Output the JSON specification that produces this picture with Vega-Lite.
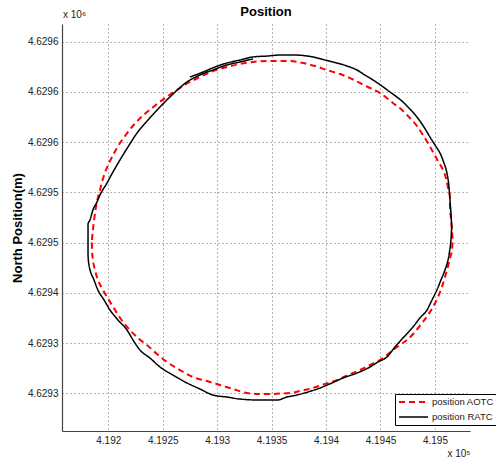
{
  "$schema": "https://vega.github.io/schema/vega-lite/v6.json",
  "width": 408,
  "height": 407,
  "autosize": {"type": "none"},
  "padding": {"left": 62, "top": 24, "right": 26, "bottom": 37},
  "background": "white",
  "config": {
    "view": {"stroke": null},
    "font": "Liberation Sans",
    "axis": {
      "grid": true,
      "gridDash": [1, 3],
      "gridColor": "#6f6f6f",
      "gridWidth": 1,
      "gridOpacity": 1,
      "domainColor": "#444444",
      "domainWidth": 1.2,
      "ticks": false,
      "labelFontSize": 10,
      "labelColor": "#222222",
      "labelFont": "Liberation Sans",
      "titleFont": "Liberation Sans",
      "titleColor": "#000000"
    },
    "legend": {
      "orient": "none",
      "legendX": 333,
      "legendY": 370,
      "strokeColor": "#000000",
      "fillColor": "#ffffff",
      "padding": 3,
      "cornerRadius": 0,
      "symbolType": "stroke",
      "symbolSize": 841,
      "symbolStrokeWidth": 2,
      "clipHeight": 10,
      "labelFontSize": 9.5,
      "labelFont": "Liberation Sans",
      "labelColor": "#222222",
      "labelOffset": 3,
      "rowPadding": 5
    }
  },
  "title": {
    "text": "Position",
    "fontSize": 13,
    "fontWeight": "bold",
    "font": "Liberation Sans",
    "color": "#000000",
    "anchor": "middle",
    "offset": -9
  },
  "data": {
    "values": [
      {"series": "position AOTC", "i": 1, "x": 419185.0, "y": 4629452.6},
      {"series": "position AOTC", "i": 2, "x": 419185.9, "y": 4629462.5},
      {"series": "position AOTC", "i": 3, "x": 419188.7, "y": 4629485.4},
      {"series": "position AOTC", "i": 4, "x": 419192.4, "y": 4629502.4},
      {"series": "position AOTC", "i": 5, "x": 419195.6, "y": 4629515.3},
      {"series": "position AOTC", "i": 6, "x": 419201.6, "y": 4629531.2},
      {"series": "position AOTC", "i": 7, "x": 419208.5, "y": 4629545.2},
      {"series": "position AOTC", "i": 8, "x": 419216.0, "y": 4629557.1},
      {"series": "position AOTC", "i": 9, "x": 419223.7, "y": 4629567.6},
      {"series": "position AOTC", "i": 10, "x": 419232.4, "y": 4629577.0},
      {"series": "position AOTC", "i": 11, "x": 419242.0, "y": 4629585.5},
      {"series": "position AOTC", "i": 12, "x": 419252.1, "y": 4629593.9},
      {"series": "position AOTC", "i": 13, "x": 419263.1, "y": 4629601.9},
      {"series": "position AOTC", "i": 14, "x": 419273.2, "y": 4629608.9},
      {"series": "position AOTC", "i": 15, "x": 419284.2, "y": 4629614.8},
      {"series": "position AOTC", "i": 16, "x": 419296.1, "y": 4629620.8},
      {"series": "position AOTC", "i": 17, "x": 419309.0, "y": 4629624.8},
      {"series": "position AOTC", "i": 18, "x": 419320.9, "y": 4629627.8},
      {"series": "position AOTC", "i": 19, "x": 419332.9, "y": 4629629.8},
      {"series": "position AOTC", "i": 20, "x": 419345.7, "y": 4629630.8},
      {"series": "position AOTC", "i": 21, "x": 419357.7, "y": 4629630.8},
      {"series": "position AOTC", "i": 22, "x": 419366.9, "y": 4629630.8},
      {"series": "position AOTC", "i": 23, "x": 419378.8, "y": 4629628.8},
      {"series": "position AOTC", "i": 24, "x": 419389.8, "y": 4629625.8},
      {"series": "position AOTC", "i": 25, "x": 419400.8, "y": 4629621.8},
      {"series": "position AOTC", "i": 26, "x": 419412.8, "y": 4629617.8},
      {"series": "position AOTC", "i": 27, "x": 419422.0, "y": 4629613.8},
      {"series": "position AOTC", "i": 28, "x": 419431.1, "y": 4629608.9},
      {"series": "position AOTC", "i": 29, "x": 419440.3, "y": 4629603.9},
      {"series": "position AOTC", "i": 30, "x": 419449.5, "y": 4629598.9},
      {"series": "position AOTC", "i": 31, "x": 419461.4, "y": 4629589.0},
      {"series": "position AOTC", "i": 32, "x": 419469.7, "y": 4629582.0},
      {"series": "position AOTC", "i": 33, "x": 419477.0, "y": 4629574.0},
      {"series": "position AOTC", "i": 34, "x": 419483.5, "y": 4629566.1},
      {"series": "position AOTC", "i": 35, "x": 419489.0, "y": 4629557.1},
      {"series": "position AOTC", "i": 36, "x": 419493.6, "y": 4629549.1},
      {"series": "position AOTC", "i": 37, "x": 419498.2, "y": 4629540.2},
      {"series": "position AOTC", "i": 38, "x": 419502.8, "y": 4629531.2},
      {"series": "position AOTC", "i": 39, "x": 419507.4, "y": 4629522.3},
      {"series": "position AOTC", "i": 40, "x": 419510.1, "y": 4629514.3},
      {"series": "position AOTC", "i": 41, "x": 419511.9, "y": 4629505.3},
      {"series": "position AOTC", "i": 42, "x": 419513.8, "y": 4629495.4},
      {"series": "position AOTC", "i": 43, "x": 419513.8, "y": 4629485.4},
      {"series": "position AOTC", "i": 44, "x": 419514.7, "y": 4629474.5},
      {"series": "position AOTC", "i": 45, "x": 419515.6, "y": 4629462.5},
      {"series": "position AOTC", "i": 46, "x": 419516.5, "y": 4629452.6},
      {"series": "position AOTC", "i": 47, "x": 419515.6, "y": 4629442.6},
      {"series": "position AOTC", "i": 48, "x": 419513.8, "y": 4629434.7},
      {"series": "position AOTC", "i": 49, "x": 419511.9, "y": 4629425.7},
      {"series": "position AOTC", "i": 50, "x": 419509.2, "y": 4629415.8},
      {"series": "position AOTC", "i": 51, "x": 419506.4, "y": 4629405.8},
      {"series": "position AOTC", "i": 52, "x": 419502.8, "y": 4629395.9},
      {"series": "position AOTC", "i": 53, "x": 419498.2, "y": 4629385.9},
      {"series": "position AOTC", "i": 54, "x": 419493.6, "y": 4629377.9},
      {"series": "position AOTC", "i": 55, "x": 419488.1, "y": 4629370.0},
      {"series": "position AOTC", "i": 56, "x": 419481.6, "y": 4629361.0},
      {"series": "position AOTC", "i": 57, "x": 419474.3, "y": 4629353.1},
      {"series": "position AOTC", "i": 58, "x": 419467.9, "y": 4629348.1},
      {"series": "position AOTC", "i": 59, "x": 419461.4, "y": 4629343.1},
      {"series": "position AOTC", "i": 60, "x": 419455.9, "y": 4629338.1},
      {"series": "position AOTC", "i": 61, "x": 419449.5, "y": 4629333.1},
      {"series": "position AOTC", "i": 62, "x": 419440.3, "y": 4629328.2},
      {"series": "position AOTC", "i": 63, "x": 419431.1, "y": 4629323.2},
      {"series": "position AOTC", "i": 64, "x": 419420.1, "y": 4629318.2},
      {"series": "position AOTC", "i": 65, "x": 419410.0, "y": 4629313.2},
      {"series": "position AOTC", "i": 66, "x": 419399.0, "y": 4629309.3},
      {"series": "position AOTC", "i": 67, "x": 419388.0, "y": 4629305.3},
      {"series": "position AOTC", "i": 68, "x": 419376.0, "y": 4629302.3},
      {"series": "position AOTC", "i": 69, "x": 419366.9, "y": 4629300.3},
      {"series": "position AOTC", "i": 70, "x": 419357.7, "y": 4629299.8},
      {"series": "position AOTC", "i": 71, "x": 419348.5, "y": 4629299.3},
      {"series": "position AOTC", "i": 72, "x": 419339.3, "y": 4629299.3},
      {"series": "position AOTC", "i": 73, "x": 419327.4, "y": 4629300.3},
      {"series": "position AOTC", "i": 74, "x": 419314.5, "y": 4629304.3},
      {"series": "position AOTC", "i": 75, "x": 419302.6, "y": 4629308.3},
      {"series": "position AOTC", "i": 76, "x": 419290.6, "y": 4629312.2},
      {"series": "position AOTC", "i": 77, "x": 419277.8, "y": 4629316.2},
      {"series": "position AOTC", "i": 78, "x": 419265.8, "y": 4629323.2},
      {"series": "position AOTC", "i": 79, "x": 419253.9, "y": 4629331.2},
      {"series": "position AOTC", "i": 80, "x": 419244.7, "y": 4629339.1},
      {"series": "position AOTC", "i": 81, "x": 419235.5, "y": 4629348.1},
      {"series": "position AOTC", "i": 82, "x": 419227.3, "y": 4629355.0},
      {"series": "position AOTC", "i": 83, "x": 419219.9, "y": 4629363.0},
      {"series": "position AOTC", "i": 84, "x": 419213.5, "y": 4629371.0},
      {"series": "position AOTC", "i": 85, "x": 419208.0, "y": 4629379.9},
      {"series": "position AOTC", "i": 86, "x": 419203.4, "y": 4629387.9},
      {"series": "position AOTC", "i": 87, "x": 419198.8, "y": 4629395.9},
      {"series": "position AOTC", "i": 88, "x": 419194.2, "y": 4629404.8},
      {"series": "position AOTC", "i": 89, "x": 419190.5, "y": 4629412.8},
      {"series": "position AOTC", "i": 90, "x": 419187.8, "y": 4629422.7},
      {"series": "position AOTC", "i": 91, "x": 419185.9, "y": 4629432.7},
      {"series": "position AOTC", "i": 92, "x": 419185.0, "y": 4629442.6},
      {"series": "position AOTC", "i": 93, "x": 419185.0, "y": 4629452.6},
      {"series": "position RATC", "i": 1, "x": 419275.0, "y": 4629614.8},
      {"series": "position RATC", "i": 2, "x": 419287.0, "y": 4629619.8},
      {"series": "position RATC", "i": 3, "x": 419298.0, "y": 4629624.8},
      {"series": "position RATC", "i": 4, "x": 419309.0, "y": 4629628.8},
      {"series": "position RATC", "i": 5, "x": 419320.9, "y": 4629631.8},
      {"series": "position RATC", "i": 6, "x": 419332.9, "y": 4629634.8},
      {"series": "position RATC", "i": 7, "x": 419345.7, "y": 4629635.7},
      {"series": "position RATC", "i": 8, "x": 419357.7, "y": 4629636.7},
      {"series": "position RATC", "i": 9, "x": 419371.4, "y": 4629636.7},
      {"series": "position RATC", "i": 10, "x": 419388.0, "y": 4629634.8},
      {"series": "position RATC", "i": 11, "x": 419399.0, "y": 4629631.8},
      {"series": "position RATC", "i": 12, "x": 419410.0, "y": 4629628.8},
      {"series": "position RATC", "i": 13, "x": 419419.2, "y": 4629625.8},
      {"series": "position RATC", "i": 14, "x": 419428.4, "y": 4629621.8},
      {"series": "position RATC", "i": 15, "x": 419435.7, "y": 4629616.8},
      {"series": "position RATC", "i": 16, "x": 419443.1, "y": 4629611.9},
      {"series": "position RATC", "i": 17, "x": 419451.3, "y": 4629605.9},
      {"series": "position RATC", "i": 18, "x": 419458.7, "y": 4629599.9},
      {"series": "position RATC", "i": 19, "x": 419465.1, "y": 4629594.9},
      {"series": "position RATC", "i": 20, "x": 419470.6, "y": 4629590.0},
      {"series": "position RATC", "i": 21, "x": 419477.0, "y": 4629583.0},
      {"series": "position RATC", "i": 22, "x": 419483.5, "y": 4629575.0},
      {"series": "position RATC", "i": 23, "x": 419489.9, "y": 4629565.1},
      {"series": "position RATC", "i": 24, "x": 419495.4, "y": 4629555.1},
      {"series": "position RATC", "i": 25, "x": 419500.0, "y": 4629547.2},
      {"series": "position RATC", "i": 26, "x": 419504.6, "y": 4629539.2},
      {"series": "position RATC", "i": 27, "x": 419508.3, "y": 4629529.2},
      {"series": "position RATC", "i": 28, "x": 419511.0, "y": 4629519.3},
      {"series": "position RATC", "i": 29, "x": 419512.9, "y": 4629505.3},
      {"series": "position RATC", "i": 30, "x": 419513.8, "y": 4629492.4},
      {"series": "position RATC", "i": 31, "x": 419514.7, "y": 4629479.5},
      {"series": "position RATC", "i": 32, "x": 419515.6, "y": 4629465.5},
      {"series": "position RATC", "i": 33, "x": 419514.7, "y": 4629452.6},
      {"series": "position RATC", "i": 34, "x": 419512.9, "y": 4629437.7},
      {"series": "position RATC", "i": 35, "x": 419509.2, "y": 4629422.7},
      {"series": "position RATC", "i": 36, "x": 419505.5, "y": 4629412.8},
      {"series": "position RATC", "i": 37, "x": 419501.8, "y": 4629402.8},
      {"series": "position RATC", "i": 38, "x": 419497.3, "y": 4629392.9},
      {"series": "position RATC", "i": 39, "x": 419492.7, "y": 4629382.9},
      {"series": "position RATC", "i": 40, "x": 419486.2, "y": 4629375.0},
      {"series": "position RATC", "i": 41, "x": 419479.8, "y": 4629366.0},
      {"series": "position RATC", "i": 42, "x": 419470.6, "y": 4629355.0},
      {"series": "position RATC", "i": 43, "x": 419463.3, "y": 4629346.1},
      {"series": "position RATC", "i": 44, "x": 419455.9, "y": 4629336.1},
      {"series": "position RATC", "i": 45, "x": 419447.7, "y": 4629331.2},
      {"series": "position RATC", "i": 46, "x": 419440.3, "y": 4629326.2},
      {"series": "position RATC", "i": 47, "x": 419428.4, "y": 4629320.2},
      {"series": "position RATC", "i": 48, "x": 419415.5, "y": 4629315.2},
      {"series": "position RATC", "i": 49, "x": 419405.4, "y": 4629310.3},
      {"series": "position RATC", "i": 50, "x": 419394.4, "y": 4629305.3},
      {"series": "position RATC", "i": 51, "x": 419383.4, "y": 4629301.3},
      {"series": "position RATC", "i": 52, "x": 419373.3, "y": 4629298.3},
      {"series": "position RATC", "i": 53, "x": 419364.1, "y": 4629296.3},
      {"series": "position RATC", "i": 54, "x": 419354.9, "y": 4629293.3},
      {"series": "position RATC", "i": 55, "x": 419339.3, "y": 4629293.3},
      {"series": "position RATC", "i": 56, "x": 419320.9, "y": 4629294.3},
      {"series": "position RATC", "i": 57, "x": 419309.0, "y": 4629296.3},
      {"series": "position RATC", "i": 58, "x": 419296.1, "y": 4629298.3},
      {"series": "position RATC", "i": 59, "x": 419284.2, "y": 4629304.3},
      {"series": "position RATC", "i": 60, "x": 419272.3, "y": 4629310.3},
      {"series": "position RATC", "i": 61, "x": 419259.4, "y": 4629318.2},
      {"series": "position RATC", "i": 62, "x": 419247.5, "y": 4629326.2},
      {"series": "position RATC", "i": 63, "x": 419238.3, "y": 4629335.1},
      {"series": "position RATC", "i": 64, "x": 419229.1, "y": 4629343.1},
      {"series": "position RATC", "i": 65, "x": 419222.7, "y": 4629353.1},
      {"series": "position RATC", "i": 66, "x": 419217.2, "y": 4629363.0},
      {"series": "position RATC", "i": 67, "x": 419208.9, "y": 4629373.0},
      {"series": "position RATC", "i": 68, "x": 419201.6, "y": 4629382.9},
      {"series": "position RATC", "i": 69, "x": 419196.1, "y": 4629392.9},
      {"series": "position RATC", "i": 70, "x": 419190.5, "y": 4629402.8},
      {"series": "position RATC", "i": 71, "x": 419186.9, "y": 4629412.8},
      {"series": "position RATC", "i": 72, "x": 419182.3, "y": 4629427.7},
      {"series": "position RATC", "i": 73, "x": 419181.4, "y": 4629437.7},
      {"series": "position RATC", "i": 74, "x": 419181.4, "y": 4629452.6},
      {"series": "position RATC", "i": 75, "x": 419181.4, "y": 4629468.5},
      {"series": "position RATC", "i": 76, "x": 419183.2, "y": 4629472.5},
      {"series": "position RATC", "i": 77, "x": 419185.9, "y": 4629482.5},
      {"series": "position RATC", "i": 78, "x": 419189.6, "y": 4629490.4},
      {"series": "position RATC", "i": 79, "x": 419192.4, "y": 4629497.4},
      {"series": "position RATC", "i": 80, "x": 419198.8, "y": 4629509.3},
      {"series": "position RATC", "i": 81, "x": 419204.3, "y": 4629520.3},
      {"series": "position RATC", "i": 82, "x": 419210.7, "y": 4629532.2},
      {"series": "position RATC", "i": 83, "x": 419218.1, "y": 4629545.2},
      {"series": "position RATC", "i": 84, "x": 419226.4, "y": 4629559.1},
      {"series": "position RATC", "i": 85, "x": 419236.5, "y": 4629572.0},
      {"series": "position RATC", "i": 86, "x": 419247.5, "y": 4629585.0},
      {"series": "position RATC", "i": 87, "x": 419259.4, "y": 4629597.9},
      {"series": "position RATC", "i": 88, "x": 419272.3, "y": 4629609.9},
      {"series": "position RATC", "i": 89, "x": 419284.2, "y": 4629616.8},
      {"series": "position RATC", "i": 90, "x": 419296.1, "y": 4629621.8},
      {"series": "position RATC", "i": 91, "x": 419309.0, "y": 4629626.8},
      {"series": "position RATC", "i": 92, "x": 419320.9, "y": 4629629.8},
      {"series": "position RATC", "i": 93, "x": 419332.9, "y": 4629632.8}
    ]
  },
  "layer": [
    {
      "mark": {"type": "line", "strokeJoin": "round", "interpolate": "monotone"},
      "encoding": {
        "x": {
          "field": "x",
          "type": "quantitative",
          "scale": {"domain": [419157.5, 419532.2], "nice": false, "zero": false},
          "axis": {
            "values": [419200, 419250, 419300, 419350, 419400, 419450, 419500],
            "labelExpr": "format(datum.value / 100000, '.5~g')",
            "labelPadding": 4,
            "title": "x 10⁵",
            "titleAnchor": "end",
            "titleAlign": "right",
            "titleFontSize": 10,
            "titleFontWeight": "normal",
            "titleColor": "#222222",
            "titlePadding": 3
          }
        },
        "y": {
          "field": "y",
          "type": "quantitative",
          "scale": {"domain": [4629262.5, 4629667.6], "nice": false, "zero": false},
          "axis": {
            "values": [4629300, 4629350, 4629400, 4629450, 4629500, 4629550, 4629600, 4629650],
            "labelExpr": "['4.6293','4.6293','4.6294','4.6295','4.6295','4.6296','4.6296','4.6296'][round((datum.value - 4629300) / 50)]",
            "labelPadding": 4,
            "title": "North Position(m)",
            "titleFontSize": 13,
            "titleFontWeight": "bold",
            "titlePadding": 3
          }
        },
        "color": {
          "field": "series",
          "type": "nominal",
          "scale": {"domain": ["position AOTC", "position RATC"], "range": ["#ff0000", "#000000"]},
          "legend": {"title": null}
        },
        "strokeDash": {
          "field": "series",
          "type": "nominal",
          "scale": {"domain": ["position AOTC", "position RATC"], "range": [[6, 4], [1, 0]]},
          "legend": {"title": null}
        },
        "strokeWidth": {
          "field": "series",
          "type": "nominal",
          "scale": {"domain": ["position AOTC", "position RATC"], "range": [2, 1.5]},
          "legend": null
        },
        "order": {"field": "i", "type": "quantitative"}
      }
    },
    {
      "data": {"values": [{"label": "x 10⁶"}]},
      "mark": {"type": "text", "align": "left", "baseline": "alphabetic", "dy": -6, "dx": 1, "fontSize": 10, "color": "#222222", "font": "Liberation Sans"},
      "encoding": {
        "x": {"datum": 419157.5, "type": "quantitative"},
        "y": {"datum": 4629667.6, "type": "quantitative"},
        "text": {"field": "label", "type": "nominal"}
      }
    }
  ]
}
